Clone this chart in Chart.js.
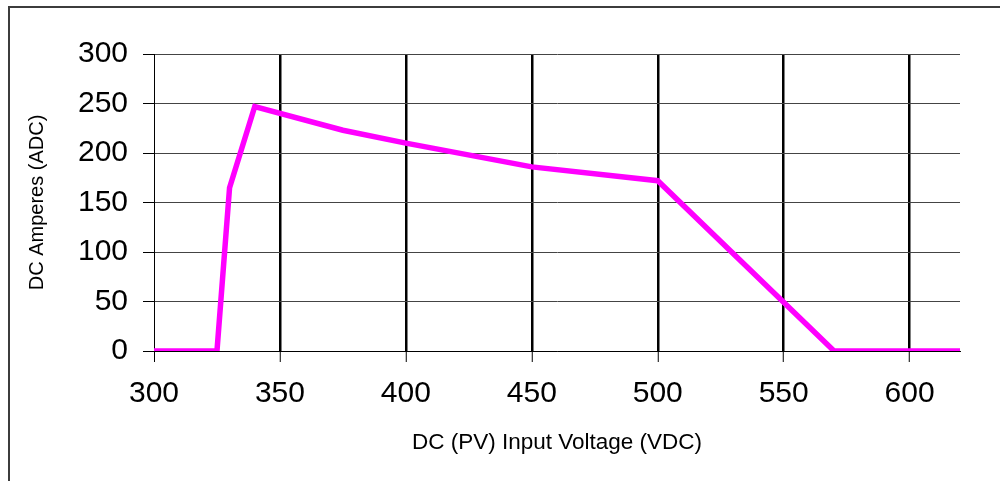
<!DOCTYPE html>
<html>
<head>
<meta charset="utf-8">
<script src="https://cdn.jsdelivr.net/npm/chart.js@4/dist/chart.umd.min.js"></script>
<style>
  html, body { margin: 0; padding: 0; background: #fff; overflow: hidden; }
  #wrap { position: relative; width: 1000px; height: 481px; }
  #myChart { position: absolute; left: 0; top: 0; }
  #frame {
    position: absolute; left: 8px; top: 6px; width: 1100px; height: 600px;
    border-left: 2px solid #3c3c3c; border-top: 2px solid #3c3c3c;
    pointer-events: none;
  }
</style>
</head>
<body>
<div id="wrap">
  <canvas id="myChart" width="1000" height="481"></canvas>
  <div id="frame"></div>
</div>
<script>
// input voltage (VDC) and current (ADC)
var voltages = [300, 325, 330, 340, 375, 400, 450, 500, 570, 620];
var amps = [0, 0, 165, 247, 223, 210, 186, 172, 0, 0];

var xTitle = "DC (PV) Input Voltage (VDC)";
var yTitle = "DC Amperes (ADC)";

var points = voltages.map(function (v, i) {
    return { x: v, y: amps[i] };
});

var tickFont = { family: "'Liberation Sans', Arial, sans-serif", size: 30 };

new Chart("myChart", {
    type: "line",
    data: {
        datasets: [{
            data: points,
            borderColor: "#ff00ff",
            borderWidth: 5.5,
            pointRadius: 0,
            tension: 0,
            fill: false
        }]
    },
    options: {
        responsive: false,
        animation: false,
        layout: { padding: { left: 0, top: 54, right: 40, bottom: 0 } },
        plugins: { legend: { display: false }, tooltip: { enabled: false } },
        scales: {
            x: {
                type: "linear",
                min: 300,
                max: 620,
                afterFit: function (s) { s.height = 130; },
                ticks: {
                    stepSize: 50,
                    includeBounds: false,
                    color: "#000",
                    font: tickFont,
                    padding: 14,
                    maxRotation: 0
                },
                grid: {
                    color: "#000",
                    lineWidth: function (c) { return c.index === 0 ? 1 : 2.5; },
                    tickLength: 11,
                    tickWidth: 1,
                    tickColor: "#000"
                },
                border: { color: "#000", width: 1 },
                title: {
                    display: true,
                    text: xTitle,
                    color: "#000",
                    font: { family: "'Liberation Sans', Arial, sans-serif", size: 22.5 },
                    padding: { top: 0, bottom: 25 }
                }
            },
            y: {
                min: 0,
                max: 300,
                afterFit: function (s) { s.width = 154; },
                ticks: {
                    stepSize: 50,
                    color: "#000",
                    font: tickFont,
                    padding: 15
                },
                grid: {
                    color: "#444",
                    lineWidth: 1,
                    tickLength: 11,
                    tickColor: "#000"
                },
                border: { color: "#000", width: 1 },
                title: {
                    display: true,
                    text: yTitle,
                    color: "#000",
                    font: { family: "'Liberation Sans', Arial, sans-serif", size: 20 },
                    padding: { top: 25, bottom: 0 }
                }
            }
        }
    }
});
</script>
</body>
</html>
